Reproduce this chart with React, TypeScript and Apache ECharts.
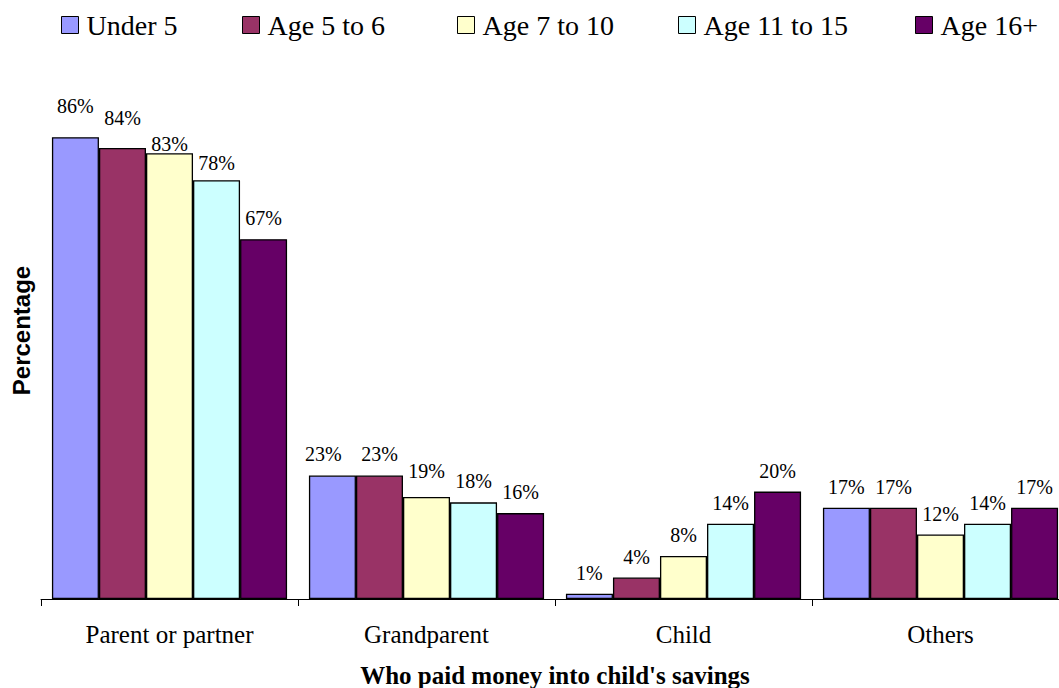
import React, { useEffect, useRef } from "react";
import * as echarts from "echarts";

const categories = ["Parent or partner", "Grandparent", "Child", "Others"];
const seriesNames = ["Under 5", "Age 5 to 6", "Age 7 to 10", "Age 11 to 15", "Age 16+"];
const under5 = [86, 23, 1, 17];
const age5to6 = [84, 23, 4, 17];
const age7to10 = [83, 19, 8, 12];
const age11to15 = [78, 18, 14, 14];
const age16plus = [67, 16, 20, 17];
const seriesValues = [under5, age5to6, age7to10, age11to15, age16plus];

const colors = ["#9999FF", "#993366", "#FFFFCC", "#CCFFFF", "#660066"];
const legendLefts = [61, 242, 457, 678, 915];
// small label nudges [dx, dy] keyed by "series-category"
const labelNudges: Record<string, [number, number]> = {
  "0-0": [0, -10],
  "1-0": [0, -9],
  "2-0": [0, 12],
  "3-0": [0, 4],
  "0-1": [-9, 0],
  "2-1": [0, -5],
};

const SERIF = "Liberation Serif";
const SANS = "Liberation Sans";

export default function App() {
  const ref = useRef<HTMLDivElement>(null);
  useEffect(() => {
    if (!ref.current) return;
    const chart = echarts.init(ref.current, undefined, { renderer: "svg" });
    const series = seriesNames.map((name, si) => ({
      name,
      type: "bar",
      barGap: "0%",
      barCategoryGap: "8.5%",
      itemStyle: { color: colors[si], borderColor: "#000", borderWidth: 1.3 },
      label: {
        show: true,
        position: "top",
        distance: 11,
        formatter: "{c}%",
        color: "#000",
        fontFamily: SERIF,
        fontSize: 20,
      },
      data: seriesValues[si].map((v, ci) => {
        const n = labelNudges[`${si}-${ci}`];
        return n ? { value: v, label: { offset: n } } : v;
      }),
    }));
    chart.setOption({
      animation: false,
      backgroundColor: "#fff",
      textStyle: { fontFamily: SERIF },
      legend: seriesNames.map((name, i) => ({
        data: [name],
        left: legendLefts[i],
        top: 11,
        padding: 0,
        itemWidth: 17,
        itemHeight: 17,
        itemGap: 0,
        icon: "rect",
        selectedMode: false,
        itemStyle: { borderColor: "#000", borderWidth: 1 },
        textStyle: { fontFamily: SERIF, fontSize: 28, color: "#000", padding: [0, 0, 0, 3] },
      })),
      grid: {
        left: 41,
        right: 0,
        top: 62,
        bottom: 89,
        containLabel: false,
        outerBoundsMode: "none",
      },
      xAxis: {
        type: "category",
        data: categories,
        axisLine: { lineStyle: { color: "#000", width: 1 } },
        axisTick: { show: true, length: 7, lineStyle: { color: "#000" } },
        axisLabel: { color: "#000", fontFamily: SERIF, fontSize: 25, margin: 23 },
        name: "Who paid money into child's savings",
        nameLocation: "middle",
        nameGap: 64,
        nameTextStyle: { color: "#000", fontFamily: SERIF, fontSize: 25, fontWeight: "bold" },
      },
      yAxis: {
        type: "value",
        min: 0,
        max: 100,
        axisLine: { show: false },
        axisTick: { show: false },
        axisLabel: { show: false },
        splitLine: { show: false },
        name: "Percentage",
        nameLocation: "middle",
        nameGap: 8,
        nameTextStyle: { color: "#000", fontFamily: SANS, fontSize: 24, fontWeight: "bold" },
      },
      series,
    });
    return () => chart.dispose();
  }, []);
  return (
    <div
      style={{ position: "absolute", left: 0, top: 0, width: 1059, height: 688, overflow: "hidden" }}
    >
      <div ref={ref} style={{ width: 1069, height: 688 }} />
    </div>
  );
}
